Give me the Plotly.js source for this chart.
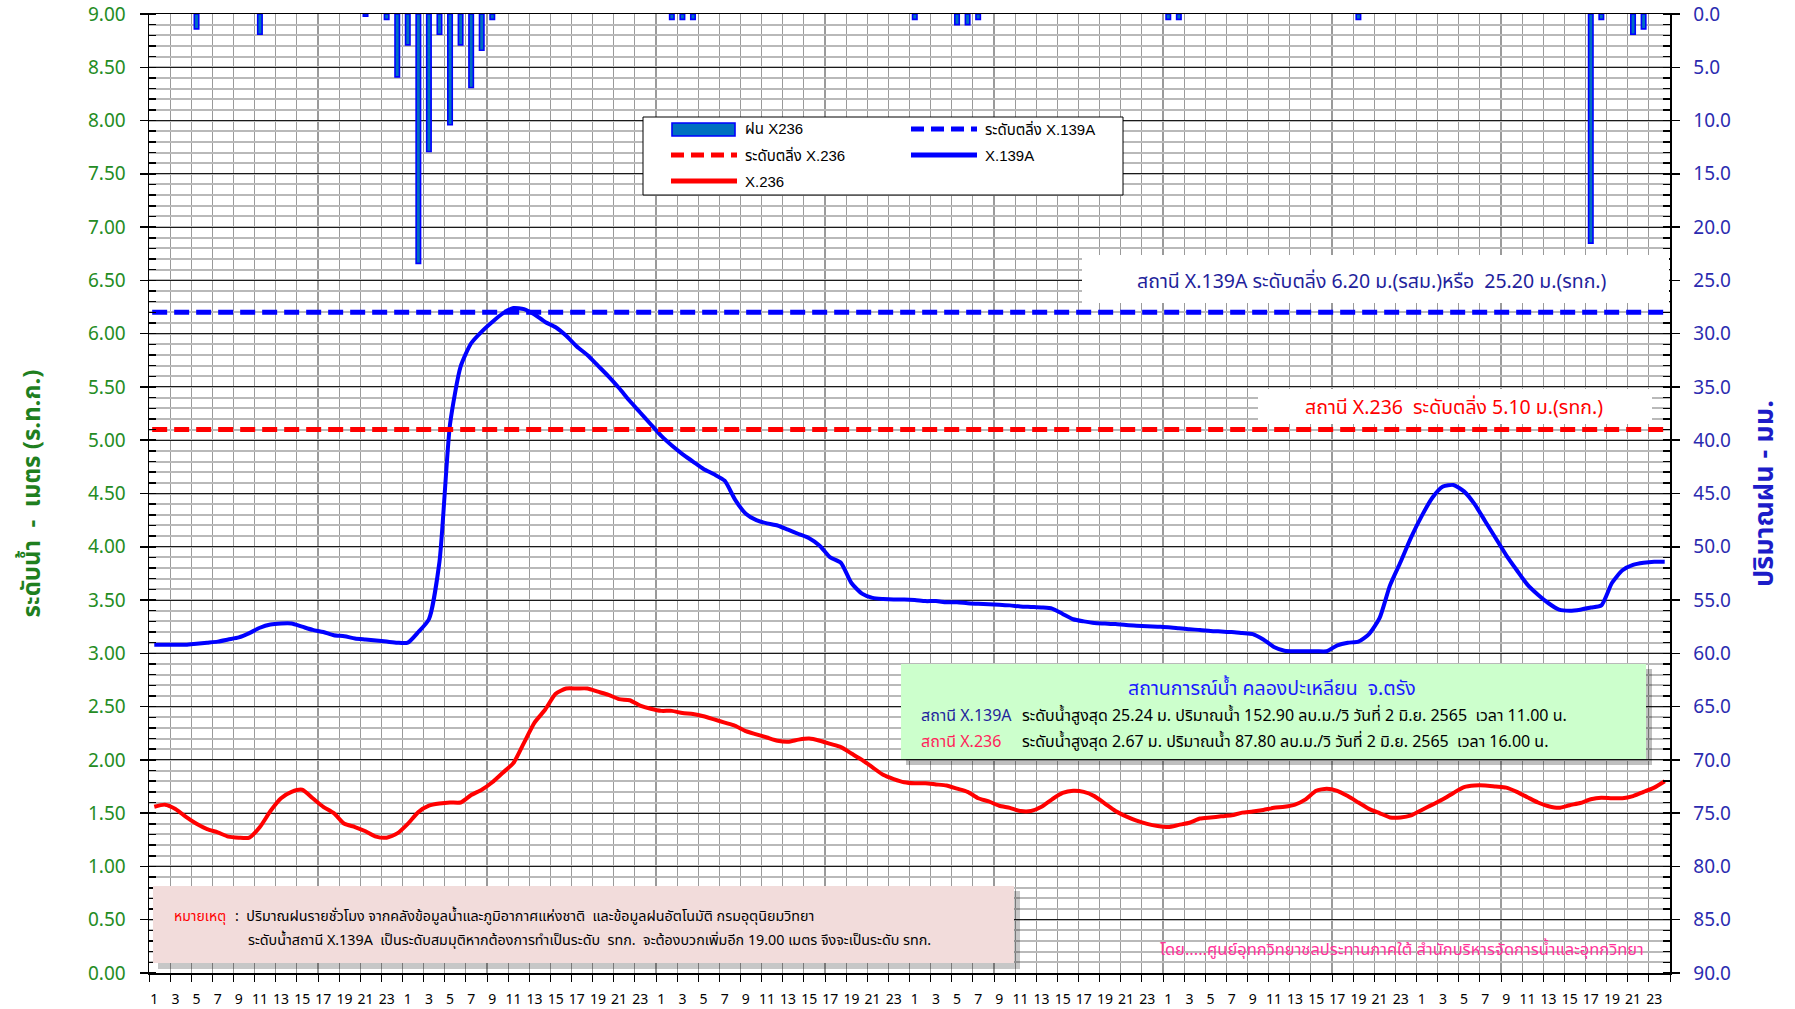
<!DOCTYPE html>
<html>
<head>
<meta charset="utf-8">
<script src="https://cdn.plot.ly/plotly-3.0.1.min.js"></script>
<style>
  html, body { margin: 0; padding: 0; background: #ffffff; }
  #chart { width: 1795px; height: 1009px; }
</style>
</head>
<body>
<div id="chart"></div>
<script>
// ---------------- DATA ----------------
const dayHourTicks = [1, 3, 5, 7, 9, 11, 13, 15, 17, 19, 21, 23];
const nDays = 6;
const hoursPerDay = 24;

// Water level X.139A (m), hourly
const levelX139A = [
  3.08, 3.08, 3.08, 3.08, 3.09, 3.10, 3.11, 3.13, 3.15, 3.19, 3.24, 3.27,
  3.28, 3.28, 3.25, 3.22, 3.20, 3.17, 3.16, 3.14, 3.13, 3.12, 3.11, 3.10,
  3.10, 3.20, 3.32, 3.86, 5.15, 5.69, 5.91, 6.02, 6.11, 6.19, 6.24, 6.23,
  6.18, 6.11, 6.06, 5.98, 5.88, 5.80, 5.70, 5.60, 5.49, 5.37, 5.26, 5.15,
  5.04, 4.95, 4.87, 4.80, 4.73, 4.68, 4.62, 4.44, 4.31, 4.25, 4.22, 4.20,
  4.16, 4.12, 4.08, 4.01, 3.90, 3.85, 3.66, 3.56, 3.52, 3.51, 3.505, 3.505,
  3.50, 3.49, 3.49, 3.48, 3.48, 3.47, 3.465, 3.46, 3.455, 3.45, 3.44, 3.435,
  3.43, 3.42, 3.37, 3.32, 3.30, 3.285, 3.28, 3.275, 3.265, 3.26, 3.255, 3.25,
  3.245, 3.235, 3.225, 3.22, 3.21, 3.205, 3.20, 3.19, 3.18, 3.13, 3.06, 3.025,
  3.02, 3.02, 3.02, 3.02, 3.075, 3.10, 3.11, 3.18, 3.33, 3.64, 3.86, 4.09,
  4.29, 4.46, 4.565, 4.58, 4.52, 4.40, 4.24, 4.08, 3.92, 3.78, 3.645, 3.55,
  3.47, 3.41, 3.40, 3.41, 3.43, 3.45, 3.66, 3.78, 3.83, 3.85, 3.86, 3.86
];

// Water level X.236 (m), hourly
const levelX236 = [
  1.56, 1.58, 1.54, 1.465, 1.40, 1.35, 1.32, 1.28, 1.27, 1.27, 1.37, 1.52,
  1.64, 1.70, 1.72, 1.64, 1.56, 1.50, 1.40, 1.37, 1.33, 1.28, 1.27, 1.31,
  1.40, 1.51, 1.57, 1.59, 1.60, 1.60, 1.67, 1.72, 1.79, 1.88, 1.97, 2.16,
  2.35, 2.47, 2.62, 2.67, 2.67, 2.67, 2.64, 2.61, 2.57, 2.56, 2.51, 2.48,
  2.46, 2.46, 2.44, 2.43, 2.41, 2.38, 2.35, 2.32, 2.27, 2.24, 2.21, 2.18,
  2.17, 2.19, 2.20, 2.18, 2.15, 2.12, 2.06, 2.00, 1.93, 1.86, 1.82, 1.79,
  1.78, 1.78, 1.77, 1.76, 1.73, 1.70, 1.64, 1.61, 1.57, 1.55, 1.52, 1.52,
  1.56, 1.63, 1.69, 1.71, 1.70, 1.66, 1.59, 1.52, 1.47, 1.43, 1.40, 1.38,
  1.37, 1.39, 1.41, 1.45, 1.46, 1.47, 1.48, 1.505, 1.515, 1.53, 1.55, 1.56,
  1.58, 1.63, 1.71, 1.73, 1.71, 1.66, 1.60, 1.54, 1.50, 1.46, 1.46, 1.48,
  1.53, 1.58, 1.63, 1.69, 1.745, 1.76, 1.76, 1.75, 1.74, 1.70, 1.65, 1.60,
  1.565, 1.55, 1.575, 1.595, 1.63, 1.645, 1.64, 1.64, 1.66, 1.70, 1.74, 1.80
];

// Hourly rainfall X236 (mm): hour index (0-based over the 6 days) and amount
const rainHourIndex = [4, 10, 20, 22, 23, 24, 25, 26, 27, 28, 29, 30, 31, 32,
  49, 50, 51, 72, 76, 77, 78, 96, 97, 114, 136, 137, 140, 141];
const rainMm = [1.4, 1.9, 0.2, 0.5, 5.9, 2.9, 23.4, 12.9, 1.9, 10.4, 2.9, 6.9, 3.4, 0.5,
  0.5, 0.5, 0.5, 0.5, 1.0, 1.0, 0.5, 0.5, 0.5, 0.5, 21.5, 0.5, 1.9, 1.4];

// Bank-full levels (m)
const bankX139A = 6.20;
const bankX236 = 5.10;

// ---------------- BUILD ----------------
const totalHours = nDays * hoursPerDay;
const xCenter = i => i + 0.5;
const xSeries = levelX139A.map((_, i) => xCenter(i));
const tickVals = [], tickText = [];
for (let d = 0; d < nDays; d++) {
  dayHourTicks.forEach(h => {
    tickVals.push(xCenter(d * hoursPerDay + h - 1));
    tickText.push(String(h));
  });
}

const THAI = 'Tahoma, "Noto Sans Thai", "Noto Sans", "DejaVu Sans", sans-serif';
const LEG = '"Liberation Sans", Arial, ' + THAI;
const GREEN = '#248c24';
const NAVY = '#2b2bb0';

const traces = [
  {
    type: 'scatter', mode: 'lines', name: 'X.139A',
    x: xSeries, y: levelX139A,
    line: { color: '#0000ff', width: 4, shape: 'spline', smoothing: 0.6 },
    xaxis: 'x', yaxis: 'y'
  },
  {
    type: 'scatter', mode: 'lines', name: 'X.236',
    x: xSeries, y: levelX236,
    line: { color: '#ff0000', width: 4, shape: 'spline', smoothing: 0.6 },
    xaxis: 'x', yaxis: 'y'
  },
  {
    type: 'scatter', mode: 'lines', name: 'ระดับตลิ่ง X.139A',
    x: [0.3, totalHours - 0.2], y: [bankX139A, bankX139A],
    line: { color: '#0000ff', width: 5, dash: '15px,7px' },
    xaxis: 'x', yaxis: 'y'
  },
  {
    type: 'scatter', mode: 'lines', name: 'ระดับตลิ่ง X.236',
    x: [0.3, totalHours - 0.2], y: [bankX236, bankX236],
    line: { color: '#ff0000', width: 5, dash: '15px,7px' },
    xaxis: 'x', yaxis: 'y'
  },
  {
    type: 'bar', name: 'ฝน X236',
    x: rainHourIndex.map(xCenter), y: rainMm,
    width: 0.42,
    marker: { color: '#0070c0', line: { color: '#0000ff', width: 1.6 } },
    xaxis: 'x', yaxis: 'y2'
  }
];

// pixel helpers for decorations (plot area: x 149..1670, y 14..973)
const PL = 149, PR = 1670, PT = 14, PB = 973;
const px = p => (p - PL) / (PR - PL);
const py = p => (PB - p) / (PB - PT);

const shapes = [];
const annotations = [];

function rect(x0, y0, x1, y1, fill, line) {
  shapes.push({ type: 'rect', xref: 'paper', yref: 'paper',
    x0: px(x0), x1: px(x1), y0: py(y1), y1: py(y0),
    fillcolor: fill, line: line || { width: 0 }, layer: 'above' });
}
function seg(x0, x1, y, color, width, dash) {
  shapes.push({ type: 'line', xref: 'paper', yref: 'paper',
    x0: px(x0), x1: px(x1), y0: py(y), y1: py(y),
    line: { color: color, width: width, dash: dash || 'solid' }, layer: 'above' });
}
function text(t, x, y, size, color, anchor, family) {
  annotations.push({
    xref: 'paper', yref: 'paper', x: px(x), y: py(y), text: t,
    showarrow: false, xanchor: anchor || 'left', yanchor: 'middle',
    font: { family: family || THAI, size: size, color: color }
  });
}

// White label boxes for bank levels
rect(1082, 255, PR - 1, 303, '#ffffff');
text('สถานี X.139A ระดับตลิ่ง 6.20 ม.(รสม.)หรือ  25.20 ม.(รทก.)', 1372, 282, 19.5, '#1f1f9c', 'center');
rect(1258, 389, 1652, 424, '#ffffff');
text('สถานี X.236  ระดับตลิ่ง 5.10 ม.(รทก.)', 1454, 408, 19.5, '#ff0000', 'center');

// Green situation box
rect(906, 669, 1652, 765, 'rgba(0,0,0,0.25)');
rect(901, 664, 1646, 759, '#ccffcc');
text('สถานการณ์น้ำ คลองปะเหลียน  จ.ตรัง', 1272, 689, 19.5, '#1a1aff', 'center');
text('สถานี X.139A', 919, 716, 16, '#1f1f9c');
text('ระดับน้ำสูงสุด 25.24 ม. ปริมาณน้ำ 152.90 ลบ.ม./วิ วันที่ 2 มิ.ย. 2565  เวลา 11.00 น.', 1020, 716, 16, '#000000');
text('สถานี X.236', 919, 742, 16, '#ff1f5a');
text('ระดับน้ำสูงสุด 2.67 ม. ปริมาณน้ำ 87.80 ลบ.ม./วิ วันที่ 2 มิ.ย. 2565  เวลา 16.00 น.', 1020, 742, 16, '#000000');

// Pink note box
rect(158, 891, 1020, 969, 'rgba(0,0,0,0.22)');
rect(153, 886, 1014, 963, '#f2dcdb');
text('หมายเหตุ', 172, 916, 14, '#ff0000');
text(':  ปริมาณฝนรายชั่วโมง จากคลังข้อมูลน้ำและภูมิอากาศแห่งชาติ  และข้อมูลฝนอัตโนมัติ กรมอุตุนิยมวิทยา', 233, 916, 14.3, '#000000');
text('ระดับน้ำสถานี X.139A  เป็นระดับสมมุติหากต้องการทำเป็นระดับ  รทก.  จะต้องบวกเพิ่มอีก 19.00 เมตร จึงจะเป็นระดับ รทก.', 246, 940, 14.3, '#000000');

// Credit
text('โดย.....ศูนย์อุทกวิทยาชลประทานภาคใต้ สำนักบริหารจัดการน้ำและอุทกวิทยา', 1158, 949, 16.5, '#ff3399');

// Legend box
rect(643, 117, 1123, 195, '#ffffff', { color: '#000000', width: 1 });
rect(672, 123, 735, 136, '#0070c0', { color: '#0000ff', width: 1.6 });
text('ฝน X236', 743, 129, 15, '#000000', 'left', LEG);
seg(671, 737, 155, '#ff0000', 5, '13px,7px');
text('ระดับตลิ่ง X.236', 743, 155, 15, '#000000', 'left', LEG);
seg(671, 737, 181, '#ff0000', 5);
text('X.236', 743, 181, 15, '#000000', 'left', LEG);
seg(911, 977, 129, '#0000ff', 5, '13px,7px');
text('ระดับตลิ่ง X.139A', 983, 129, 15, '#000000', 'left', LEG);
seg(911, 977, 155, '#0000ff', 5);
text('X.139A', 983, 155, 15, '#000000', 'left', LEG);

const layout = {
  width: 1795, height: 1009,
  margin: { l: PL, r: 1795 - PR, t: PT, b: 1009 - PB, pad: 0 },
  paper_bgcolor: '#ffffff', plot_bgcolor: '#ffffff',
  showlegend: false,
  bargap: 0,
  xaxis: {
    range: [0, totalHours], autorange: false,
    tickmode: 'array', tickvals: tickVals, ticktext: tickText,
    ticks: '', showgrid: false, zeroline: false,
    showline: true, linecolor: '#000000', linewidth: 1.5, mirror: true,
    tickfont: { family: THAI, size: 14, color: '#000000' },
    ticklabelstandoff: 13,
    minor: { tick0: 0, dtick: 2, ticks: 'outside', ticklen: 7, tickcolor: '#000000',
             showgrid: true, gridcolor: '#9a9a9a', gridwidth: 1.2 }
  },
  yaxis: {
    range: [0, 9], autorange: false,
    tick0: 0, dtick: 0.5, tickformat: '.2f',
    showgrid: true, gridcolor: '#1a1a1a', gridwidth: 1,
    zeroline: false, showline: true, linecolor: '#000000', linewidth: 1.5,
    ticks: 'outside', ticklen: 8, tickcolor: '#000000', tickwidth: 1.5,
    tickfont: { family: THAI, size: 19, color: GREEN },
    ticklabelstandoff: 10,
    minor: { dtick: 0.1, ticks: 'inside', ticklen: 7, tickcolor: '#000000',
             showgrid: true, gridcolor: '#b9b9b9', gridwidth: 2 },
    title: { text: 'ระดับน้ำ  -  เมตร (ร.ท.ก.)', standoff: 40,
             font: { family: THAI, size: 24, color: '#1f7f1f', weight: 'bold' } }
  },
  yaxis2: {
    overlaying: 'y', side: 'right', anchor: 'x',
    range: [90, 0], autorange: false,
    tick0: 0, dtick: 5, tickformat: '.1f',
    showgrid: false, zeroline: false,
    showline: true, linecolor: '#000000', linewidth: 1.5,
    ticks: 'outside', ticklen: 8, tickcolor: '#000000', tickwidth: 1.5,
    tickfont: { family: THAI, size: 19, color: NAVY },
    ticklabelstandoff: 10,
    minor: { dtick: 1, ticks: 'inside', ticklen: 7, tickcolor: '#000000', showgrid: false },
    title: { text: 'ปริมาณฝน - มม.', standoff: 24,
             font: { family: THAI, size: 27, color: '#1c1cc8', weight: 'bold' } }
  },
  shapes: shapes,
  annotations: annotations
};

Plotly.newPlot('chart', traces, layout, { displayModeBar: false, staticPlot: true });
</script>
</body>
</html>
